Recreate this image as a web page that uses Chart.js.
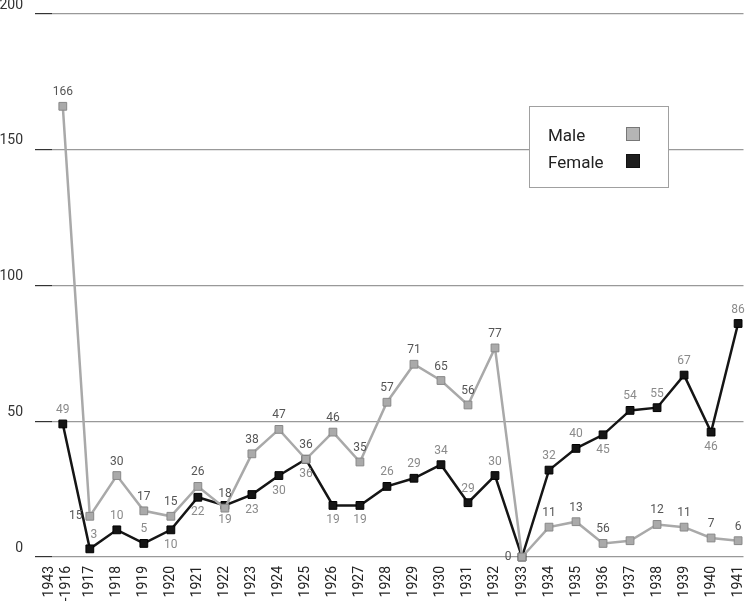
<!DOCTYPE html>
<html>
<head>
<meta charset="utf-8">
<script src="https://cdn.jsdelivr.net/npm/chart.js@4"></script>
<style>
html, body { margin: 0; padding: 0; background: #fff; }
#wrap { width: 750px; height: 601px; }
</style>
</head>
<body>
<div id="wrap"><canvas id="chart"></canvas></div>
<script>
// ===== data
const years = [['1943', '-1916'], '1917', '1918', '1919', '1920', '1921', '1922', '1923', '1924',
  '1925', '1926', '1927', '1928', '1929', '1930', '1931', '1932', '1933', '1934', '1935',
  '1936', '1937', '1938', '1939', '1940', '1941'];
const maleValues = [166, 15, 30, 17, 15, 26, 18, 38, 47, 36, 46, 35, 57, 71, 65, 56, 77, 0,
  11, 13, 5, 6, 12, 11, 7, 6];
const femaleValues = [49, 3, 10, 5, 10, 22, 19, 23, 30, 36, 19, 19, 26, 29, 34, 20, 30, 0,
  32, 40, 45, 54, 55, 67, 46, 86];
// printed labels (as in the original, a few do not match the point)
const maleLabels = ['166', '15', '30', '17', '15', '26', '18', '38', '47', '36', '46', '35', '57',
  '71', '65', '56', '77', '0', '11', '13', '56', '', '12', '11', '7', '6'];
const femaleLabels = ['49', '3', '10', '5', '10', '22', '19', '23', '30', '36', '19', '19', '26',
  '29', '34', '29', '30', '', '32', '40', '45', '54', '55', '67', '46', '86'];
const maleLabelPos = ['a', 'l', 'a', 'a', 'a', 'a', 'a', 'a', 'a', 'a', 'a', 'a', 'a',
  'a', 'a', 'a', 'a', 'l', 'a', 'a', 'a', 'a', 'a', 'a', 'a', 'a'];
const femaleLabelPos = ['a', 'ar', 'a', 'a', 'b', 'b', 'b', 'b', 'b', 'b', 'b', 'b', 'a',
  'a', 'a', 'a', 'a', 'a', 'a', 'a', 'b', 'a', 'a', 'a', 'b', 'a'];
const yTicks = [0, 50, 100, 150, 200];
const legendItems = ['Male', 'Female'];

const FONT = 'Roboto, "DejaVu Sans", sans-serif';
const MALE_LINE = '#a9a9a9';
const FEMALE_LINE = '#151515';

// ===== data labels
const pointLabels = {
  id: 'pointLabels',
  afterDatasetsDraw(chart) {
    const ctx = chart.ctx;
    const sets = [
      { texts: maleLabels, pos: maleLabelPos, color: '#555' },
      { texts: femaleLabels, pos: femaleLabelPos, color: '#8a8a8a' }
    ];
    ctx.save();
    ctx.font = '12px ' + FONT;
    ctx.textAlign = 'center';
    ctx.textBaseline = 'middle';
    sets.forEach((s, di) => {
      const meta = chart.getDatasetMeta(di);
      meta.data.forEach((pt, i) => {
        const t = s.texts[i];
        if (!t) return;
        let dx = 0, dy = -14;
        if (s.pos[i] === 'b') dy = 15;
        if (s.pos[i] === 'l') { dx = -14; dy = 0; }
        if (s.pos[i] === 'ar') { dx = 4; dy = -14; }
        ctx.fillStyle = s.color;
        ctx.fillText(t, pt.x + dx, pt.y + dy);
      });
    });
    ctx.restore();
  }
};

// ===== boxed legend
const boxLegend = {
  id: 'boxLegend',
  afterDraw(chart) {
    const ctx = chart.ctx;
    ctx.save();
    ctx.fillStyle = '#fff';
    ctx.fillRect(529.5, 106.5, 139, 81);
    ctx.strokeStyle = '#a0a0a0';
    ctx.lineWidth = 1;
    ctx.strokeRect(529.5, 106.5, 139, 81);
    ctx.font = '17px ' + FONT;
    ctx.textBaseline = 'alphabetic';
    ctx.textAlign = 'left';
    const swatch = [
      { fill: '#b5b5b5', stroke: '#777' },
      { fill: '#1e1e1e', stroke: '#111' }
    ];
    legendItems.forEach((name, i) => {
      const y = 141 + i * 27;
      ctx.fillStyle = '#222';
      ctx.fillText(name, 548, y);
      ctx.fillStyle = swatch[i].fill;
      ctx.fillRect(626.5, y - 13.5, 13, 13);
      ctx.strokeStyle = swatch[i].stroke;
      ctx.strokeRect(626.5, y - 13.5, 13, 13);
    });
    ctx.restore();
  }
};

new Chart(document.getElementById('chart'), {
  type: 'line',
  data: {
    datasets: [
      {
        label: 'Male',
        data: maleValues.map((v, i) => ({ x: i, y: v })),
        borderColor: MALE_LINE,
        borderWidth: 2.5,
        pointStyle: 'rect',
        pointRadius: 5.5,
        pointBackgroundColor: '#aaa',
        pointBorderColor: '#888',
        pointBorderWidth: 1,
        tension: 0,
        clip: false
      },
      {
        label: 'Female',
        data: femaleValues.map((v, i) => ({ x: i, y: v })),
        borderColor: FEMALE_LINE,
        borderWidth: 2.5,
        pointStyle: 'rect',
        pointRadius: 5.5,
        pointBackgroundColor: '#151515',
        pointBorderColor: '#000',
        pointBorderWidth: 1,
        tension: 0,
        clip: false
      }
    ]
  },
  options: {
    responsive: true,
    maintainAspectRatio: false,
    animation: false,
    devicePixelRatio: 1,
    layout: { padding: { top: 14, left: 0, right: 0, bottom: 0 } },
    plugins: {
      legend: { display: false },
      tooltip: { enabled: false }
    },
    scales: {
      x: {
        type: 'linear',
        min: -0.4,
        max: 25.2,
        // first label is two lines; nudge it left so its second line sits on the point
        afterBuildTicks: (s) => { s.ticks = years.map((_, i) => ({ value: i === 0 ? -0.5 : i })); },
        afterFit: (s) => { s.height = 44; s.paddingLeft = 0; s.paddingRight = 0; },
        grid: { display: false, drawTicks: false },
        border: { display: false },
        ticks: {
          autoSkip: false,
          maxRotation: 90,
          minRotation: 90,
          padding: 9,
          color: '#222',
          font: { family: FONT, size: 14 },
          lineHeight: 1.1,
          callback: (v, i) => years[i]
        }
      },
      y: {
        min: 0,
        max: 200,
        afterBuildTicks: (s) => { s.ticks = yTicks.map((v) => ({ value: v })); },
        afterFit: (s) => { s.width = 52; s.paddingTop = 0; s.paddingBottom = 0; },
        grid: { color: '#999', lineWidth: 1.2, tickLength: 17, tickColor: '#333' },
        border: { display: false },
        ticks: {
          crossAlign: 'near',
          padding: 12,
          labelOffset: -9,
          color: '#333',
          font: { family: FONT, size: 14 }
        }
      }
    }
  },
  plugins: [pointLabels, boxLegend]
});
</script>
</body>
</html>
